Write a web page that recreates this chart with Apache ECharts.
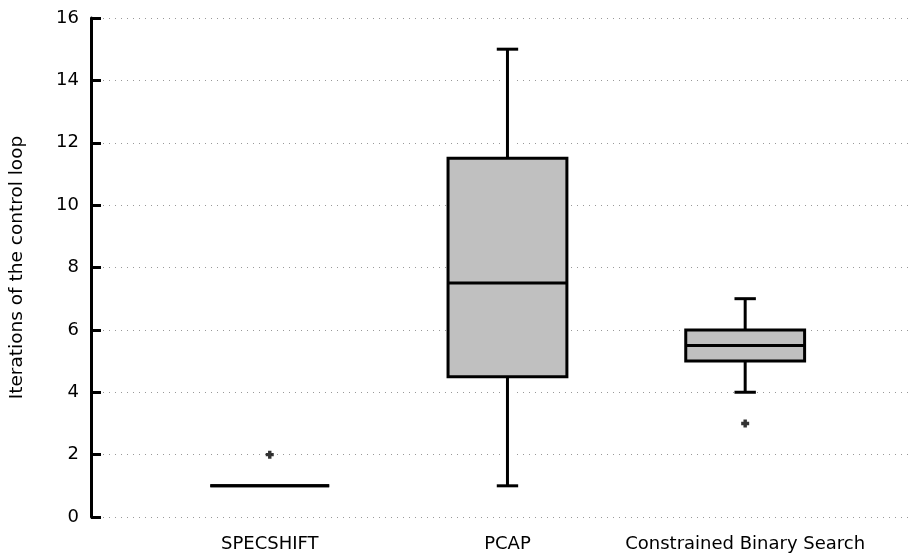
<!DOCTYPE html>
<html>
<head>
<meta charset="utf-8">
<script src="https://cdn.jsdelivr.net/npm/echarts@6/dist/echarts.min.js"></script>
<style>html,body{margin:0;padding:0;background:#fff;}#c{width:915px;height:560px;}</style>
</head>
<body>
<div id="c"></div>
<script>
const categories = ['SPECSHIFT', 'PCAP', 'Constrained Binary Search'];
const boxMin = [1, 1, 4];
const boxQ1 = [1, 4.5, 5];
const boxMedian = [1, 7.5, 5.5];
const boxQ3 = [1, 11.5, 6];
const boxMax = [1, 15, 7];
const outlierCategory = [0, 2];
const outlierValue = [2, 3];
const yTickValues = [0, 2, 4, 6, 8, 10, 12, 14, 16];

const FONT = 'DejaVu Sans';
const boxData = categories.map((c, i) => [i + 1, boxMin[i], boxQ1[i], boxMedian[i], boxQ3[i], boxMax[i]]);
const outData = outlierCategory.map((c, i) => [c + 1, outlierValue[i]]);

const chart = echarts.init(document.getElementById('c'), null, {renderer: 'canvas'});
chart.setOption({
  animation: false,
  backgroundColor: '#fff',
  grid: {left: 90, right: 2, top: 18, bottom: 43, containLabel: false},
  xAxis: {
    type: 'value', min: 0.248, max: 3.706,
    axisLine: {show: false}, axisTick: {show: false}, splitLine: {show: false},
    axisLabel: {
      customValues: [1, 2, 3],
      formatter: v => categories[Math.round(v) - 1] || '',
      color: '#000', fontFamily: FONT, fontSize: 18, margin: 18
    }
  },
  yAxis: {
    type: 'value', min: 0, max: 16, interval: 2,
    name: 'Iterations of the control loop', nameLocation: 'middle', nameGap: 64,
    nameTextStyle: {color: '#000', fontFamily: FONT, fontSize: 18.5},
    axisLine: {show: true, lineStyle: {color: '#000', width: 3}},
    axisTick: {show: true, inside: true, length: 10, lineStyle: {color: '#000', width: 3}},
    axisLabel: {color: '#000', fontFamily: FONT, fontSize: 18, margin: 12,
      formatter: v => yTickValues.includes(v) ? String(v) : ''},
    splitLine: {show: true, lineStyle: {color: '#999', width: 1, type: [1, 5]}}
  },
  series: [
    {
      type: 'custom',
      data: boxData,
      encode: {x: 0, y: [1, 2, 3, 4, 5]},
      renderItem: function (params, api) {
        const x = api.value(0);
        const w = api.size([0.5, 0])[0];
        const capW = api.size([0.09, 0])[0];
        const pMin = api.coord([x, api.value(1)]);
        const pQ1 = api.coord([x, api.value(2)]);
        const pMed = api.coord([x, api.value(3)]);
        const pQ3 = api.coord([x, api.value(4)]);
        const pMax = api.coord([x, api.value(5)]);
        const cx = pMed[0];
        const blk = {stroke: '#000', lineWidth: 3, fill: null};
        const halo = {stroke: '#fff', lineWidth: 11, fill: null};
        const children = [];
        if (pMax[1] < pQ3[1]) {
          children.push({type: 'line', shape: {x1: cx, y1: pMax[1], x2: cx, y2: pQ3[1]}, style: halo});
          children.push({type: 'line', shape: {x1: cx, y1: pMax[1], x2: cx, y2: pQ3[1]}, style: blk});
          children.push({type: 'line', shape: {x1: cx - capW / 2, y1: pMax[1], x2: cx + capW / 2, y2: pMax[1]}, style: blk});
        }
        if (pMin[1] > pQ1[1]) {
          children.push({type: 'line', shape: {x1: cx, y1: pQ1[1], x2: cx, y2: pMin[1]}, style: halo});
          children.push({type: 'line', shape: {x1: cx, y1: pQ1[1], x2: cx, y2: pMin[1]}, style: blk});
          children.push({type: 'line', shape: {x1: cx - capW / 2, y1: pMin[1], x2: cx + capW / 2, y2: pMin[1]}, style: blk});
        }
        children.push({type: 'rect', shape: {x: cx - w / 2, y: pQ3[1], width: w, height: pQ1[1] - pQ3[1]},
          style: {fill: '#c0c0c0', stroke: '#000', lineWidth: 3}});
        children.push({type: 'line', shape: {x1: cx - w / 2, y1: pMed[1], x2: cx + w / 2, y2: pMed[1]}, style: blk});
        return {type: 'group', children: children};
      }
    },
    {
      type: 'scatter',
      data: outData,
      symbol: 'path://M2,0H5V2H7V5H5V7H2V5H0V2H2Z',
      symbolSize: 8,
      itemStyle: {color: '#000'}
    }
  ]
});
</script>
</body>
</html>
